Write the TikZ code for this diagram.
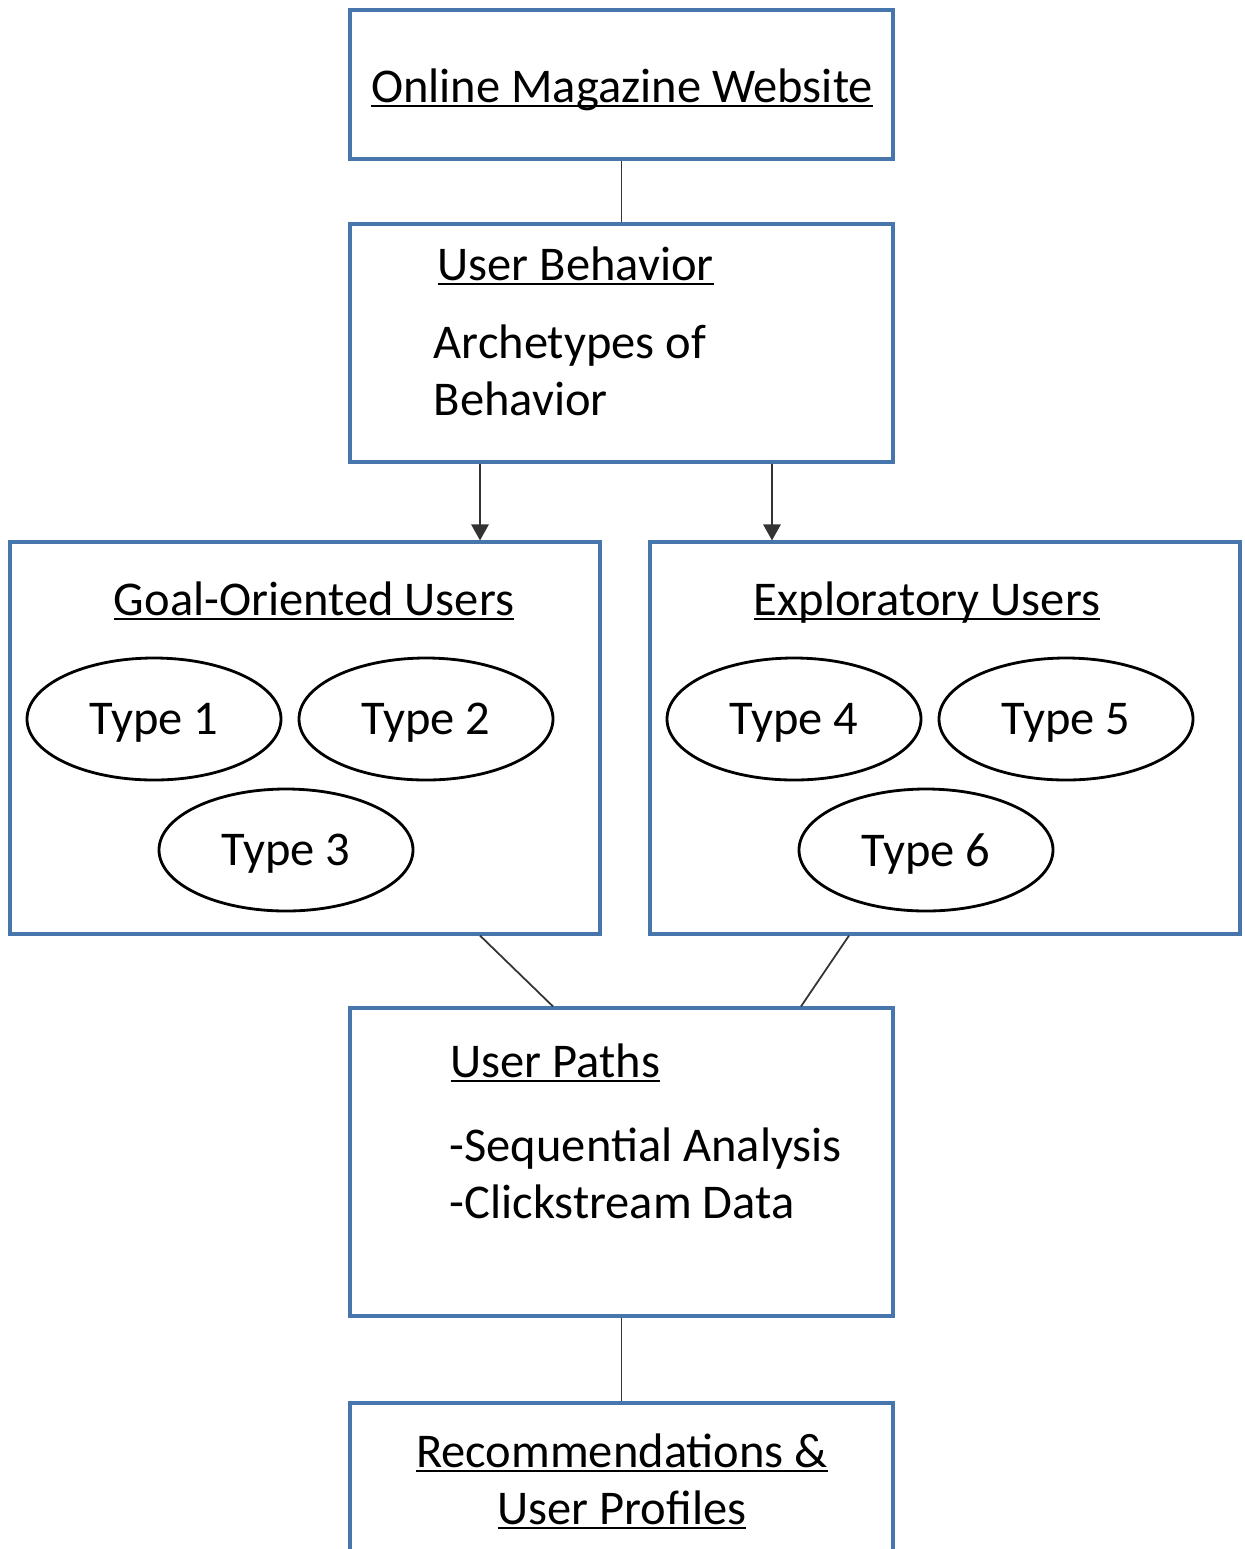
\documentclass[tikz,border=0pt]{standalone}
\usepackage{fontspec}
\setmainfont{Carlito}
\usetikzlibrary{shapes.geometric,arrows.meta}

\definecolor{boxblue}{RGB}{70,118,172}
\newcommand{\ulc}[1]{{\setbox0\hbox{#1}\rlap{\rule[-1.5pt]{\wd0}{0.75pt}}\box0}}
\tikzset{
  box/.style={draw=boxblue, line width=0.9pt, rectangle, inner sep=0pt},
  txt/.style={inner sep=0pt, font=\fontsize{13.8}{16.2}\selectfont},
  usertype/.style={draw, ellipse, line width=0.8pt, inner sep=0pt, text depth=0pt,
    minimum width=2.54cm, minimum height=1.22cm, font=\fontsize{13.8}{16.2}\selectfont},
  link/.style={line width=0.5pt, draw=black!80},
  arrow/.style={link, -{Triangle[width=5pt,length=4.6pt]}}
}

\begin{document}
\begin{tikzpicture}
\useasboundingbox (0,0) rectangle (12.45,-15.49);
% boxes
\node[box, minimum width=5.43cm, minimum height=1.49cm] (web) at (6.215,-0.845) {};
\node[box, minimum width=5.43cm, minimum height=2.38cm] (beh) at (6.215,-3.43) {};
\node[box, minimum width=5.90cm, minimum height=3.92cm] (goal) at (3.05,-7.38) {};
\node[box, minimum width=5.90cm, minimum height=3.92cm] (expl) at (9.45,-7.38) {};
\node[box, minimum width=5.43cm, minimum height=3.08cm] (paths) at (6.215,-11.62) {};
\node[box, minimum width=5.43cm, minimum height=2.47cm] (rec) at (6.215,-15.265) {};
% texts
\node[txt, anchor=base] (webtitle) at (6.22,-1.02) {\ulc{Online Magazine Website}};
\node[txt, anchor=base west] (behtitle) at (4.37,-2.80) {\ulc{User Behavior}};
\node[txt, anchor=base west, align=left] (behtext) at (4.33,-4.15) {Archetypes of\\Behavior};
\node[txt, anchor=base] (goaltitle) at (3.14,-6.15) {\ulc{Goal-Oriented Users}};
\node[txt, anchor=base] (expltitle) at (9.27,-6.15) {\ulc{Exploratory Users}};
\node[txt, anchor=base west] (pathstitle) at (4.50,-10.77) {\ulc{User Paths}};
\node[txt, anchor=base west, align=left] (pathstext) at (4.49,-12.18) {-Sequential Analysis\\-Clickstream Data};
\node[txt, anchor=base, align=center] (rectitle) at (6.22,-15.24) {\ulc{Recommendations \&}\\\ulc{User Profiles}};
% user types
\node[usertype] (t1) at (1.54,-7.19) {Type 1};
\node[usertype] (t2) at (4.26,-7.19) {Type 2};
\node[usertype] (t3) at (2.86,-8.50) {Type 3};
\node[usertype] (t4) at (7.94,-7.19) {Type 4};
\node[usertype] (t5) at (10.66,-7.19) {Type 5};
\node[usertype] (t6) at (9.26,-8.50) {Type 6};
% connectors
\coordinate (ga) at (4.80,0);
\coordinate (ea) at (7.72,0);
\coordinate (gb) at (4.80,0);
\coordinate (pl) at (5.53,0);
\coordinate (eb) at (8.49,0);
\coordinate (pr) at (8.01,0);
\draw[link] (web) -- (beh);
\draw[arrow] (beh.south -| ga) -- (goal.north -| ga);
\draw[arrow] (beh.south -| ea) -- (expl.north -| ea);
\draw[link] (goal.south -| gb) -- (paths.north -| pl);
\draw[link] (expl.south -| eb) -- (paths.north -| pr);
\draw[link] (paths) -- (rec);
\end{tikzpicture}
\end{document}
